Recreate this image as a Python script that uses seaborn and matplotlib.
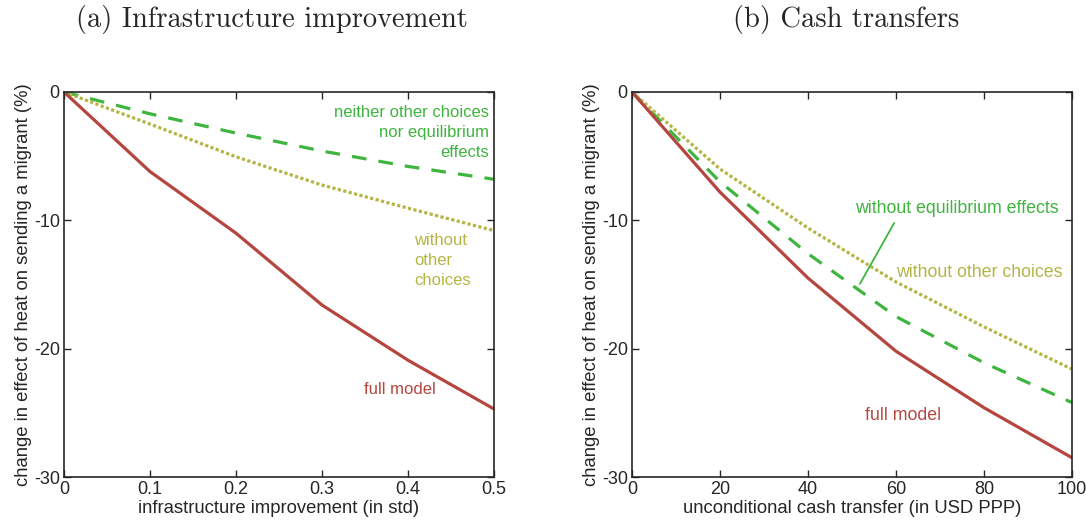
import numpy as np
import pandas as pd
import matplotlib
matplotlib.use('Agg')
import matplotlib.pyplot as plt
import seaborn as sns

# panel (a): infrastructure improvement
infra_x = [0, 0.1, 0.2, 0.3, 0.4, 0.5]
infra_full = [0, -6.2, -11.0, -16.6, -20.9, -24.7]
infra_no_other = [0, -2.5, -5.05, -7.25, -9.05, -10.8]
infra_neither = [0, -1.7, -3.2, -4.6, -5.8, -6.8]
infra_ticks = [0, 0.1, 0.2, 0.3, 0.4, 0.5]
infra_ticklabels = ['0', '0.1', '0.2', '0.3', '0.4', '0.5']

# panel (b): cash transfers
cash_x = [0, 20, 40, 60, 80, 100]
cash_full = [0, -7.8, -14.5, -20.2, -24.6, -28.5]
cash_no_other = [0, -6.0, -10.6, -14.8, -18.3, -21.6]
cash_no_equil = [0, -7.0, -12.6, -17.5, -21.1, -24.2]
cash_ticks = [0, 20, 40, 60, 80, 100]

y_ticks = [0, -10, -20, -30]

RED = '#B4463F'
GREEN = '#3EB53E'
OLIVE = '#B5B545'
DARK = '#262626'

sns.set_style('ticks')
plt.rcParams['font.family'] = ['Liberation Sans', 'DejaVu Sans']
plt.rcParams['axes.unicode_minus'] = False

fig = plt.figure(figsize=(10.86, 5.31), dpi=100)
ax_a = fig.add_axes([64 / 1086, 54 / 531, 430 / 1086, 385 / 531])
ax_b = fig.add_axes([632 / 1086, 54 / 531, 440 / 1086, 385 / 531])


def draw(ax, x, full, dotted, dashed):
    df = pd.DataFrame({'x': x, 'full': full, 'dotted': dotted, 'dashed': dashed})
    sns.lineplot(data=df, x='x', y='dashed', ax=ax, color=GREEN, lw=2.3,
                 linestyle=(0, (4.6, 3.8)))
    sns.lineplot(data=df, x='x', y='dotted', ax=ax, color=OLIVE, lw=2.3,
                 linestyle=(0, (1.0, 0.75)))
    sns.lineplot(data=df, x='x', y='full', ax=ax, color=RED, lw=2.3)


def style(ax, xticks, xlabels, xlabel):
    ax.set_ylim(-30, 0)
    ax.set_xlim(xticks[0], xticks[-1])
    ax.set_xticks(xticks)
    ax.set_xticklabels(xlabels)
    ax.set_yticks(y_ticks)
    ax.set_yticklabels([str(v) for v in y_ticks])
    ax.tick_params(direction='in', length=5, width=1, top=True, right=True,
                   labelsize=13, colors=DARK, pad=3)
    for sp in ax.spines.values():
        sp.set_visible(True)
        sp.set_linewidth(1.2)
        sp.set_color(DARK)
    ax.set_xlabel(xlabel, fontsize=13.3, color=DARK, labelpad=1)
    ax.set_ylabel('change in effect of heat on sending a migrant (%)',
                  fontsize=13.3, color=DARK, labelpad=1)


draw(ax_a, infra_x, infra_full, infra_no_other, infra_neither)
style(ax_a, infra_ticks, infra_ticklabels, 'infrastructure improvement (in std)')
ax_a.text(0.494, -3.14, 'neither other choices\nnor equilibrium\neffects',
          color=GREEN, fontsize=12, ha='right', va='center', linespacing=1.43)
ax_a.text(0.4068, -13.15, 'without\nother\nchoices',
          color=OLIVE, fontsize=12, ha='left', va='center', linespacing=1.43)
ax_a.text(0.39, -23.15, 'full model', color=RED, fontsize=12,
          ha='center', va='center')

draw(ax_b, cash_x, cash_full, cash_no_other, cash_no_equil)
style(ax_b, cash_ticks, [str(v) for v in cash_ticks],
      'unconditional cash transfer (in USD PPP)')
ax_b.annotate('without equilibrium effects', xy=(51.8, -14.95), xytext=(50.6, -9.1),
              color=GREEN, fontsize=12.8, ha='left', va='center',
              arrowprops=dict(arrowstyle='-', color=GREEN, lw=1.3,
                              shrinkA=2, shrinkB=0,
                              relpos=(0.21, 0.0)))
ax_b.text(60.1, -14.1, 'without other choices', color=OLIVE, fontsize=12.8,
          ha='left', va='center')
ax_b.text(61.6, -25.2, 'full model', color=RED, fontsize=12.8,
          ha='center', va='center')

fig.text(272 / 1086, 1 - 20 / 531, '(a) Infrastructure improvement',
         fontfamily='cmr10', fontsize=20.5, ha='center', va='center')
fig.text(846 / 1086, 1 - 20 / 531, '(b) Cash transfers',
         fontfamily='cmr10', fontsize=20.5, ha='center', va='center')

fig.savefig('out.png', dpi=100)
